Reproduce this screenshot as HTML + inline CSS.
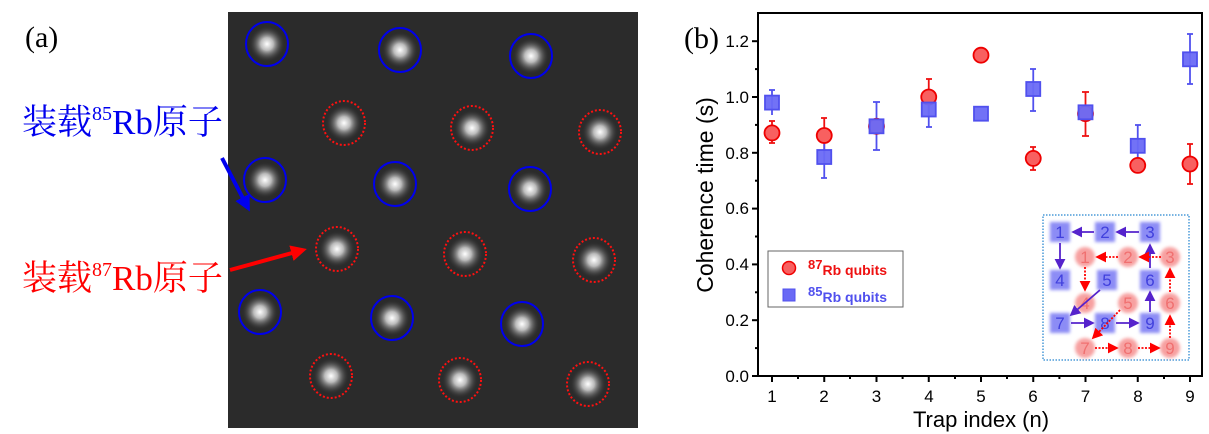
<!DOCTYPE html>
<html><head><meta charset="utf-8"><style>
html,body{margin:0;padding:0;background:#fff;}
svg{display:block;}
</style></head><body>
<svg width="1209" height="434" viewBox="0 0 1209 434" xmlns="http://www.w3.org/2000/svg">
<defs>
<radialGradient id="spot"><stop offset="0" stop-color="#fff"/><stop offset="0.35" stop-color="#bbb"/><stop offset="1" stop-color="#333" stop-opacity="0"/></radialGradient>
<filter id="bl"><feGaussianBlur stdDeviation="1.5"/></filter>
<marker id="ab" markerWidth="6" markerHeight="6" refX="5" refY="3" orient="auto"><path d="M0,0L6,3L0,6z" fill="#5522cc"/></marker>
<marker id="ar" markerWidth="6" markerHeight="6" refX="5" refY="3" orient="auto"><path d="M0,0L6,3L0,6z" fill="#f00"/></marker>
<marker id="bigb" markerWidth="4" markerHeight="4" refX="3" refY="2" orient="auto"><path d="M0,0L4,2L0,4z" fill="#0000ee"/></marker>
<marker id="bigr" markerWidth="4" markerHeight="4" refX="3" refY="2" orient="auto"><path d="M0,0L4,2L0,4z" fill="#f00"/></marker>
</defs>
<!-- panel a -->
<text x="25" y="47" font-family="Liberation Serif, serif" font-size="30">(a)</text>
<rect x="228" y="12" width="410" height="416" fill="#2b2b2b"/>
<g>
<g fill="url(#spot)">
<circle cx="267" cy="44" r="18"/><circle cx="400" cy="50" r="18"/><circle cx="531" cy="56" r="18"/>
<circle cx="344" cy="123" r="18"/><circle cx="472" cy="128" r="18"/><circle cx="600" cy="132" r="18"/>
<circle cx="265" cy="180" r="18"/><circle cx="395" cy="184" r="18"/><circle cx="530" cy="189" r="18"/>
<circle cx="337" cy="249" r="18"/><circle cx="465" cy="254" r="18"/><circle cx="594" cy="260" r="18"/>
<circle cx="260" cy="312" r="18"/><circle cx="392" cy="318" r="18"/><circle cx="522" cy="324" r="18"/>
<circle cx="331" cy="376" r="18"/><circle cx="460" cy="380" r="18"/><circle cx="588" cy="384" r="18"/>
</g>
<g fill="none" stroke="#0000ee" stroke-width="2">
<ellipse cx="267" cy="44" rx="21" ry="22"/><ellipse cx="400" cy="50" rx="21" ry="22"/><ellipse cx="531" cy="56" rx="21" ry="22"/>
<ellipse cx="265" cy="180" rx="21" ry="22"/><ellipse cx="395" cy="184" rx="21" ry="22"/><ellipse cx="530" cy="189" rx="21" ry="22"/>
<ellipse cx="260" cy="312" rx="21" ry="22"/><ellipse cx="392" cy="318" rx="21" ry="22"/><ellipse cx="522" cy="324" rx="21" ry="22"/>
</g>
<g fill="none" stroke="#ff1010" stroke-width="2" stroke-dasharray="2,2">
<ellipse cx="344" cy="123" rx="21" ry="22"/><ellipse cx="472" cy="128" rx="21" ry="22"/><ellipse cx="600" cy="132" rx="21" ry="22"/>
<ellipse cx="337" cy="249" rx="21" ry="22"/><ellipse cx="465" cy="254" rx="21" ry="22"/><ellipse cx="594" cy="260" rx="21" ry="22"/>
<ellipse cx="331" cy="376" rx="21" ry="22"/><ellipse cx="460" cy="380" rx="21" ry="22"/><ellipse cx="588" cy="384" rx="21" ry="22"/>
</g>
</g>
<text x="22" y="134" font-family="Liberation Serif, 'Noto Serif CJK SC', serif" font-size="35" fill="#0000ee">装载<tspan font-size="20" dy="-14">85</tspan><tspan dy="14">Rb原子</tspan></text>
<line x1="222" y1="158" x2="248" y2="208" stroke="#0000ee" stroke-width="4" marker-end="url(#bigb)"/>
<text x="22" y="290" font-family="Liberation Serif, 'Noto Serif CJK SC', serif" font-size="35" fill="#ff0000">装载<tspan font-size="20" dy="-14">87</tspan><tspan dy="14">Rb原子</tspan></text>
<line x1="230" y1="270" x2="303" y2="250" stroke="#ff0000" stroke-width="4" marker-end="url(#bigr)"/>

<!-- panel b -->
<text x="684" y="48" font-family="Liberation Serif, serif" font-size="30">(b)</text>
<rect x="758" y="13" width="444" height="363" fill="none" stroke="#000" stroke-width="2"/>
<g stroke="#000" stroke-width="2">
<line x1="752" y1="376" x2="758" y2="376"/><line x1="752" y1="320.2" x2="758" y2="320.2"/><line x1="752" y1="264.4" x2="758" y2="264.4"/><line x1="752" y1="208.6" x2="758" y2="208.6"/><line x1="752" y1="152.8" x2="758" y2="152.8"/><line x1="752" y1="97" x2="758" y2="97"/><line x1="752" y1="41.2" x2="758" y2="41.2"/>
<line x1="755" y1="348.1" x2="758" y2="348.1"/><line x1="755" y1="292.3" x2="758" y2="292.3"/><line x1="755" y1="236.5" x2="758" y2="236.5"/><line x1="755" y1="180.7" x2="758" y2="180.7"/><line x1="755" y1="124.9" x2="758" y2="124.9"/><line x1="755" y1="69.1" x2="758" y2="69.1"/>
<line x1="772" y1="376" x2="772" y2="382"/><line x1="824.25" y1="376" x2="824.25" y2="382"/><line x1="876.5" y1="376" x2="876.5" y2="382"/><line x1="928.75" y1="376" x2="928.75" y2="382"/><line x1="981" y1="376" x2="981" y2="382"/><line x1="1033.25" y1="376" x2="1033.25" y2="382"/><line x1="1085.5" y1="376" x2="1085.5" y2="382"/><line x1="1137.75" y1="376" x2="1137.75" y2="382"/><line x1="1190" y1="376" x2="1190" y2="382"/>
<line x1="798" y1="376" x2="798" y2="379"/><line x1="850" y1="376" x2="850" y2="379"/><line x1="902.6" y1="376" x2="902.6" y2="379"/><line x1="955" y1="376" x2="955" y2="379"/><line x1="1007" y1="376" x2="1007" y2="379"/><line x1="1059.4" y1="376" x2="1059.4" y2="379"/><line x1="1111.6" y1="376" x2="1111.6" y2="379"/><line x1="1164" y1="376" x2="1164" y2="379"/>
</g>
<g font-family="Liberation Sans, sans-serif" font-size="17" text-anchor="end">
<text x="749" y="382">0.0</text><text x="749" y="326">0.2</text><text x="749" y="270">0.4</text><text x="749" y="214">0.6</text><text x="749" y="159">0.8</text><text x="749" y="103">1.0</text><text x="749" y="47">1.2</text>
</g>
<g font-family="Liberation Sans, sans-serif" font-size="17" text-anchor="middle">
<text x="772" y="402">1</text><text x="824" y="402">2</text><text x="876.5" y="402">3</text><text x="929" y="402">4</text><text x="981" y="402">5</text><text x="1033" y="402">6</text><text x="1085.5" y="402">7</text><text x="1138" y="402">8</text><text x="1190" y="402">9</text>
<text x="981" y="427" font-size="22">Trap index (n)</text>
<text transform="translate(713,195) rotate(-90)" font-size="23">Coherence time (s)</text>
</g>
<!-- red error bars -->
<g stroke="#ee1111" stroke-width="1.8">
<line x1="772" y1="121" x2="772" y2="143"/><line x1="769" y1="121" x2="775" y2="121"/><line x1="769" y1="143" x2="775" y2="143"/>
<line x1="824.25" y1="118" x2="824.25" y2="153"/><line x1="821" y1="118" x2="827" y2="118"/>
<line x1="928.75" y1="79" x2="928.75" y2="114"/><line x1="926" y1="79" x2="932" y2="79"/>
<line x1="1033.25" y1="147" x2="1033.25" y2="170"/><line x1="1030" y1="147" x2="1036" y2="147"/><line x1="1030" y1="170" x2="1036" y2="170"/>
<line x1="1085.5" y1="92" x2="1085.5" y2="136"/><line x1="1082" y1="92" x2="1089" y2="92"/><line x1="1082" y1="136" x2="1089" y2="136"/>
<line x1="1190" y1="144" x2="1190" y2="184"/><line x1="1187" y1="144" x2="1193" y2="144"/><line x1="1187" y1="184" x2="1193" y2="184"/>
</g>
<!-- blue error bars -->
<g stroke="#5050ee" stroke-width="1.8">
<line x1="772" y1="90" x2="772" y2="115"/><line x1="769" y1="90" x2="775" y2="90"/>
<line x1="824.25" y1="136" x2="824.25" y2="178"/><line x1="821" y1="136" x2="827" y2="136"/><line x1="821" y1="178" x2="827" y2="178"/>
<line x1="876.5" y1="102" x2="876.5" y2="150"/><line x1="873" y1="102" x2="880" y2="102"/><line x1="873" y1="150" x2="880" y2="150"/>
<line x1="928.75" y1="91" x2="928.75" y2="127"/><line x1="926" y1="127" x2="932" y2="127"/>
<line x1="1033.25" y1="69" x2="1033.25" y2="111"/><line x1="1030" y1="69" x2="1036" y2="69"/><line x1="1030" y1="111" x2="1036" y2="111"/>
<line x1="1137.75" y1="125" x2="1137.75" y2="167"/><line x1="1135" y1="125" x2="1141" y2="125"/>
<line x1="1190" y1="34" x2="1190" y2="84"/><line x1="1187" y1="34" x2="1193" y2="34"/><line x1="1187" y1="84" x2="1193" y2="84"/>
</g>
<!-- red circles -->
<g fill="#f86060" stroke="#ee0000" stroke-width="1.8">
<circle cx="772" cy="132.9" r="7.5"/><circle cx="824.25" cy="135.5" r="7.5"/><circle cx="876.5" cy="126.3" r="7.5"/><circle cx="928.75" cy="97" r="7.5"/><circle cx="981" cy="55.2" r="7.5"/><circle cx="1033.25" cy="158.4" r="7.5"/><circle cx="1085.5" cy="113.7" r="7.5"/><circle cx="1137.75" cy="165.4" r="7.5"/><circle cx="1190" cy="164" r="7.5"/>
</g>
<!-- blue squares -->
<g fill="#6a6af5" stroke="#5050ee" stroke-width="1.8" fill-opacity="0.95">
<rect x="765" y="95.6" width="14" height="14"/><rect x="817.25" y="150" width="14" height="14"/><rect x="869.5" y="119.3" width="14" height="14"/><rect x="921.75" y="102.5" width="14" height="14"/><rect x="974" y="106.7" width="14" height="14"/><rect x="1026.25" y="82" width="14" height="14"/><rect x="1078.5" y="105.3" width="14" height="14"/><rect x="1130.75" y="138.8" width="14" height="14"/><rect x="1183" y="52.3" width="14" height="14"/>
</g>
<!-- legend -->
<rect x="768" y="251" width="135" height="56" fill="#fff" stroke="#666" stroke-width="1"/>
<circle cx="789" cy="268" r="6.5" fill="#f86060" stroke="#ee0000" stroke-width="1.5"/>
<rect x="783" y="289" width="12" height="12" fill="#6a6af5" stroke="#5050ee"/>
<g font-family="Liberation Sans, sans-serif" font-weight="bold" font-size="14">
<text x="808" y="275" fill="#ee1111"><tspan font-size="13" dy="-6">87</tspan><tspan dy="6">Rb qubits</tspan></text>
<text x="808" y="302" fill="#5050ee"><tspan font-size="13" dy="-6">85</tspan><tspan dy="6">Rb qubits</tspan></text>
</g>
<!-- inset -->
<rect x="1043" y="215" width="146" height="145" fill="#fff" stroke="#4a9ad8" stroke-width="1.5" stroke-dasharray="1.5,1.5"/>
<g filter="url(#bl)">
<g fill="#f7a0a0">
<circle cx="1085" cy="257" r="10"/><circle cx="1128" cy="257" r="10"/><circle cx="1170" cy="257" r="10"/>
<circle cx="1085" cy="303" r="10"/><circle cx="1128" cy="303" r="10"/><circle cx="1170" cy="303" r="10"/>
<circle cx="1085" cy="348" r="10"/><circle cx="1128" cy="348" r="10"/><circle cx="1170" cy="348" r="10"/>
</g>
<g fill="#8c8cf5">
<rect x="1050" y="222" width="20" height="20"/><rect x="1095" y="222" width="20" height="20"/><rect x="1140" y="222" width="20" height="20"/>
<rect x="1050" y="270" width="20" height="20"/><rect x="1097" y="270" width="20" height="20"/><rect x="1140" y="270" width="20" height="20"/>
<rect x="1050" y="313" width="20" height="20"/><rect x="1095" y="313" width="20" height="20"/><rect x="1140" y="313" width="20" height="20"/>
</g>
</g>
<g font-family="Liberation Sans, sans-serif" font-size="17" text-anchor="middle">
<g fill="#f07070">
<text x="1085" y="263">1</text><text x="1128" y="263">2</text><text x="1170" y="263">3</text>
<text x="1085" y="309">4</text><text x="1128" y="309">5</text><text x="1170" y="309">6</text>
<text x="1085" y="354">7</text><text x="1128" y="354">8</text><text x="1170" y="354">9</text>
</g>
<g fill="#4040dd">
<text x="1060" y="238">1</text><text x="1105" y="238">2</text><text x="1150" y="238">3</text>
<text x="1060" y="286">4</text><text x="1107" y="286">5</text><text x="1150" y="286">6</text>
<text x="1060" y="329">7</text><text x="1105" y="329">8</text><text x="1150" y="329">9</text>
</g>
</g>
<g stroke="#5522cc" stroke-width="1.8" fill="none">
<line x1="1094" y1="232" x2="1073" y2="232" marker-end="url(#ab)"/>
<line x1="1139" y1="232" x2="1117" y2="232" marker-end="url(#ab)"/>
<line x1="1060" y1="243" x2="1060" y2="268" marker-end="url(#ab)"/>
<line x1="1100" y1="290" x2="1071" y2="315" marker-end="url(#ab)"/>
<line x1="1071" y1="323" x2="1093" y2="323" marker-end="url(#ab)"/>
<line x1="1116" y1="323" x2="1138" y2="323" marker-end="url(#ab)"/>
<line x1="1150" y1="312" x2="1150" y2="292" marker-end="url(#ab)"/>
<line x1="1150" y1="268" x2="1150" y2="245" marker-end="url(#ab)"/>
</g>
<g stroke="#ff0000" stroke-width="1.8" fill="none" stroke-dasharray="2,1.5">
<line x1="1161" y1="257" x2="1140" y2="257" marker-end="url(#ar)"/>
<line x1="1118" y1="257" x2="1097" y2="257" marker-end="url(#ar)"/>
<line x1="1085" y1="267" x2="1085" y2="290" marker-end="url(#ar)"/>
<line x1="1120" y1="310" x2="1093" y2="338" marker-end="url(#ar)"/>
<line x1="1095" y1="348" x2="1117" y2="348" marker-end="url(#ar)"/>
<line x1="1138" y1="348" x2="1159" y2="348" marker-end="url(#ar)"/>
<line x1="1170" y1="338" x2="1170" y2="316" marker-end="url(#ar)"/>
<line x1="1170" y1="292" x2="1170" y2="269" marker-end="url(#ar)"/>
</g>
</svg>
</body></html>
